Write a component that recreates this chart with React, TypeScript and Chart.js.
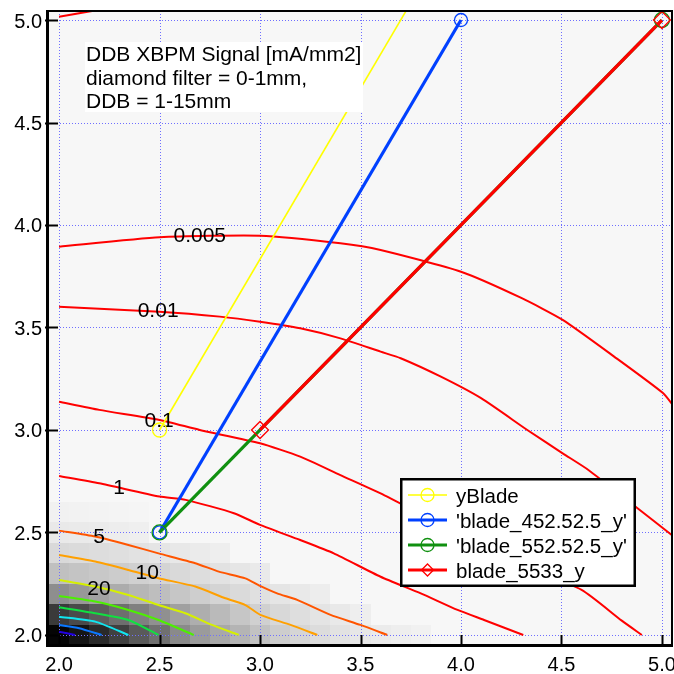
import React, { useEffect, useRef } from 'react';
import { Chart, registerables } from 'chart.js';

Chart.register(...registerables);

// ---- axes ----
const xRange = [1.945, 5.055];
const yRange = [1.951, 5.044];
const xTicks = [2.0, 2.5, 3.0, 3.5, 4.0, 4.5, 5.0];
const yTicks = [2.0, 2.5, 3.0, 3.5, 4.0, 4.5, 5.0];

// ---- heatmap (signal, mA/mm2) on 0.1 grid ----
const heatX = [2.0, 2.1, 2.2, 2.3, 2.4, 2.5, 2.6, 2.7, 2.8, 2.9, 3.0, 3.1, 3.2, 3.3, 3.4, 3.5, 3.6, 3.7, 3.8];
const heatY = [2.0, 2.1, 2.2, 2.3, 2.4, 2.5, 2.6];
const heatRow20 = [80.6, 75.5, 68.7, 61.6, 53.2, 46.1, 37.7, 32.3, 28.1, 24.2, 19.7, 16.1, 13.5, 11.3, 9.4, 7.7, 6.5, 5.5, 4.5];
const heatRow21 = [63.5, 58.4, 52.6, 46.8, 41.0, 35.8, 30.6, 26.1, 22.3, 18.4, 15.2, 12.6, 10.6, 8.7, 7.1, 5.5];
const heatRow22 = [36.5, 33.2, 30.0, 26.8, 23.5, 21.0, 18.4, 15.8, 13.9, 11.9, 10.0, 8.4, 7.1, 5.8];
const heatRow23 = [20.3, 19.0, 17.7, 16.5, 15.2, 13.9, 12.3, 11.0, 9.4, 8.1, 6.8];
const heatRow24 = [12.3, 11.6, 11.0, 10.3, 9.4, 8.4, 7.4, 6.5, 5.5];
const heatRow25 = [7.1, 6.8, 6.5, 5.8, 5.2];
const heatRow26 = [4.5, 4.2, 3.9, 3.5, 3.2];
const heatRows = [heatRow20, heatRow21, heatRow22, heatRow23, heatRow24, heatRow25, heatRow26];

// ---- contour lines [x, y] ----
const contour0001 = [[2.0, 5.016], [2.2, 5.05], [2.4, 5.08]];
const contour0005 = [[2.0, 3.894], [2.5, 3.94], [3.0, 3.948], [3.4, 3.911], [3.6, 3.878], [4.0, 3.772], [4.3, 3.644], [4.506, 3.537], [4.762, 3.358], [5.005, 3.18], [5.06, 3.114]];
const contour001 = [[2.0, 3.601], [2.5, 3.577], [2.8, 3.553], [3.0, 3.528], [3.2, 3.496], [3.4, 3.447], [3.6, 3.382], [3.7, 3.35], [3.9, 3.26], [4.1, 3.155], [4.33, 3.0], [4.506, 2.886], [4.634, 2.805], [4.85, 2.64], [5.06, 2.479]];
const contour01 = [[2.0, 3.138], [2.2, 3.098], [2.5, 3.049], [2.7, 3.0], [3.0, 2.935], [3.2, 2.87], [3.4, 2.78], [3.6, 2.691], [3.8, 2.59], [4.0, 2.49], [4.3, 2.34], [4.6, 2.22], [4.8, 2.07], [4.9, 2.0]];
const contour1 = [[2.0, 2.776], [2.2, 2.74], [2.5, 2.675], [2.63, 2.659], [2.87, 2.594], [3.0, 2.537], [3.2, 2.463], [3.367, 2.398], [3.6, 2.284], [3.8, 2.203], [3.983, 2.122], [4.115, 2.073], [4.31, 2.0]];
const contour5 = [[2.0, 2.509], [2.18, 2.48], [2.345, 2.439], [2.495, 2.398], [2.678, 2.35], [2.795, 2.309], [2.927, 2.276], [3.0, 2.239], [3.085, 2.203], [3.185, 2.171], [3.351, 2.098], [3.5, 2.049], [3.633, 2.0]];
const contour10 = [[2.0, 2.39], [2.18, 2.358], [2.345, 2.317], [2.495, 2.277], [2.678, 2.236], [2.828, 2.179], [2.927, 2.146], [3.002, 2.098], [3.152, 2.049], [3.285, 2.0]];
const contour20 = [[2.0, 2.268], [2.18, 2.236], [2.345, 2.195], [2.495, 2.146], [2.628, 2.106], [2.761, 2.049], [2.894, 2.0]];
const contour30 = [[2.0, 2.19], [2.18, 2.163], [2.345, 2.122], [2.495, 2.073], [2.67, 2.0]];
const contour40 = [[2.0, 2.135], [2.18, 2.106], [2.345, 2.073], [2.495, 2.0]];
const contour50 = [[2.0, 2.089], [2.18, 2.065], [2.345, 2.0]];
const contour60 = [[2.0, 2.049], [2.1, 2.033], [2.212, 2.0]];
const contour70 = [[2.0, 2.016], [2.08, 2.0]];

const contourLines = [contour0001, contour0005, contour001, contour01, contour1, contour5, contour10, contour20, contour30, contour40, contour50, contour60, contour70];
const contourLevels = ['0.001', '0.005', '0.01', '0.1', '1', '5', '10', '20', '30', '40', '50', '60', '70'];
const contourColors = ['#ff0000', '#ff0000', '#ff0000', '#ff0000', '#ff0000', '#ff5500', '#ffa000', '#d6f000', '#4cf000', '#10e040', '#10e6f0', '#0a78ff', '#2200e0'];

// contour labels
const labelText = ['0.005', '0.01', '0.1', '1', '5', '10', '20'];
const labelX = [2.70, 2.493, 2.498, 2.299, 2.199, 2.439, 2.199];
const labelY = [3.946, 3.58, 3.044, 2.717, 2.476, 2.30, 2.222];

// ---- blade series ----
const bladeNames = ['yBlade', "'blade_452.52.5_y'", "'blade_552.52.5_y'", 'blade_5533_y'];
const yBladeX = [2.5, 4.0];
const yBladeY = [3.0, 5.5];
const blade452X = [2.5, 4.0];
const blade452Y = [2.5, 5.0];
const blade552X = [2.5, 5.0];
const blade552Y = [2.5, 5.0];
const blade5533X = [3.0, 5.0];
const blade5533Y = [3.0, 5.0];

const annotationLines = ['DDB XBPM Signal [mA/mm2]', 'diamond filter = 0-1mm,', 'DDB = 1-15mm'];

const FONT = '"Liberation Sans", Arial, sans-serif';

const pts = (xs: number[], ys: number[]) => xs.map((x, i) => ({ x, y: ys[i] }));

const bladeStyles = [
  { color: '#ffff00', width: 1.6, marker: 'circle', r: 7 },
  { color: '#0040ff', width: 3.2, marker: 'circle', r: 6.5 },
  { color: '#109010', width: 3.2, marker: 'circle', r: 7.5 },
  { color: '#ff0000', width: 3.2, marker: 'rectRot', r: 8.5 },
];

function drawMarker(ctx: CanvasRenderingContext2D, kind: string, x: number, y: number, r: number, color: string) {
  ctx.save();
  ctx.strokeStyle = color;
  ctx.lineWidth = 1.3;
  ctx.beginPath();
  if (kind === 'circle') {
    ctx.arc(x, y, r, 0, Math.PI * 2);
  } else {
    ctx.moveTo(x - r, y);
    ctx.lineTo(x, y - r);
    ctx.lineTo(x + r, y);
    ctx.lineTo(x, y + r);
    ctx.closePath();
  }
  ctx.stroke();
  ctx.restore();
}

const decorPlugin = {
  id: 'decor',
  beforeDatasetsDraw(chart: any) {
    const { ctx, chartArea: a, scales } = chart;
    const xs = scales.x, ys = scales.y;
    ctx.save();
    ctx.fillStyle = '#f7f7f7';
    ctx.fillRect(a.left, a.top, a.right - a.left, a.bottom - a.top);
    // heatmap
    heatRows.forEach((row, j) => {
      const yc = heatY[j];
      const y0 = Math.round(ys.getPixelForValue(yc + 0.05));
      const y1 = Math.round(ys.getPixelForValue(yc - 0.05));
      row.forEach((v, i) => {
        const xc = heatX[i];
        const x0 = Math.round(xs.getPixelForValue(xc - 0.05));
        const x1 = Math.round(xs.getPixelForValue(xc + 0.05));
        const g = Math.max(0, Math.min(255, Math.round(255 - 3.1 * v)));
        ctx.fillStyle = `rgb(${g},${g},${g})`;
        const l = Math.max(x0, a.left);
        ctx.fillRect(l, y0, x1 - l, Math.min(y1, a.bottom) - y0);
      });
    });
    // grid
    ctx.strokeStyle = '#6f6fff';
    ctx.lineWidth = 1;
    ctx.setLineDash([1, 2]);
    xTicks.forEach((t) => {
      const p = Math.round(xs.getPixelForValue(t)) + 0.5;
      ctx.beginPath();
      ctx.moveTo(p, a.top);
      ctx.lineTo(p, a.bottom);
      ctx.stroke();
    });
    yTicks.forEach((t) => {
      const p = Math.round(ys.getPixelForValue(t)) + 0.5;
      ctx.beginPath();
      ctx.moveTo(a.left, p);
      ctx.lineTo(a.right, p);
      ctx.stroke();
    });
    ctx.restore();
  },
  afterDatasetsDraw(chart: any) {
    const { ctx, chartArea: a, scales } = chart;
    const xs = scales.x, ys = scales.y;
    ctx.save();
    // contour labels
    ctx.fillStyle = '#000';
    ctx.font = `21px ${FONT}`;
    ctx.textAlign = 'center';
    ctx.textBaseline = 'middle';
    labelText.forEach((t, i) => {
      ctx.fillText(t, xs.getPixelForValue(labelX[i]), ys.getPixelForValue(labelY[i]));
    });
    // markers (hollow) drawn over lines
    const bladeX = [yBladeX, blade452X, blade552X, blade5533X];
    const bladeY = [yBladeY, blade452Y, blade552Y, blade5533Y];
    ctx.save();
    ctx.beginPath();
    ctx.rect(a.left, a.top, a.right - a.left, a.bottom - a.top);
    ctx.clip();
    [0, 1, 2, 3].forEach((k) => {
      const st = bladeStyles[k];
      bladeX[k].forEach((x, i) => {
        drawMarker(ctx, st.marker, xs.getPixelForValue(x), ys.getPixelForValue(bladeY[k][i]), st.r, st.color);
      });
    });
    ctx.restore();
    // frame
    ctx.strokeStyle = '#000';
    ctx.setLineDash([]);
    ctx.lineWidth = 2;
    ctx.beginPath();
    ctx.moveTo(a.left, a.top);
    ctx.lineTo(a.right - 1, a.top);
    ctx.lineTo(a.right - 1, a.bottom);
    ctx.stroke();
    ctx.lineWidth = 3;
    ctx.beginPath();
    ctx.moveTo(a.left - 0.5, a.top - 1);
    ctx.lineTo(a.left - 0.5, a.bottom + 0.5);
    ctx.lineTo(a.right, a.bottom + 0.5);
    ctx.stroke();
    // ticks
    ctx.lineWidth = 2;
    xTicks.forEach((t) => {
      const p = Math.round(xs.getPixelForValue(t)) + 0.5;
      ctx.beginPath();
      ctx.moveTo(p, a.bottom);
      ctx.lineTo(p, a.bottom - 10);
      ctx.stroke();
    });
    yTicks.forEach((t) => {
      const p = Math.round(ys.getPixelForValue(t)) + 0.5;
      ctx.beginPath();
      ctx.moveTo(a.left - 3, p);
      ctx.lineTo(a.left + 10, p);
      ctx.stroke();
    });
    // tick labels
    ctx.fillStyle = '#000';
    ctx.font = `20px ${FONT}`;
    ctx.textBaseline = 'alphabetic';
    ctx.textAlign = 'center';
    xTicks.forEach((t) => {
      ctx.fillText(t.toFixed(1), xs.getPixelForValue(t), a.bottom + 26);
    });
    ctx.textAlign = 'right';
    yTicks.forEach((t) => {
      ctx.fillText(t.toFixed(1), a.left - 6, ys.getPixelForValue(t) + 7.5);
    });
    // annotation box
    ctx.fillStyle = '#ffffff';
    ctx.fillRect(85, 42, 278, 70);
    ctx.fillStyle = '#000';
    ctx.font = `21px ${FONT}`;
    ctx.textAlign = 'left';
    annotationLines.forEach((t, i) => {
      ctx.fillText(t, 86, 61 + i * 23.5);
    });
    // legend
    const lx = 400, ly = 478, lw = 236, lh = 109;
    ctx.fillStyle = '#ffffff';
    ctx.fillRect(lx, ly, lw, lh);
    ctx.strokeStyle = '#000';
    ctx.lineWidth = 2.5;
    ctx.strokeRect(lx + 1.25, ly + 1.25, lw - 2.5, lh - 2.5);
    ctx.font = `20.5px ${FONT}`;
    bladeNames.forEach((name, i) => {
      const st = bladeStyles[i];
      const cy = ly + 17 + i * 25;
      ctx.strokeStyle = st.color;
      ctx.lineWidth = st.width;
      ctx.beginPath();
      ctx.moveTo(lx + 8, cy);
      ctx.lineTo(lx + 47, cy);
      ctx.stroke();
      drawMarker(ctx, st.marker, lx + 27.5, cy, st.marker === 'circle' ? 6.5 : 6, st.color);
      ctx.fillStyle = '#000';
      ctx.fillText(name, lx + 56, cy + 7.5);
    });
    ctx.restore();
  },
};

export default function App() {
  const ref = useRef<HTMLCanvasElement | null>(null);
  useEffect(() => {
    document.body.style.margin = '0';
    const canvas = ref.current;
    if (!canvas) return;
    const bladeData = [
      { label: bladeNames[3], data: pts(blade5533X, blade5533Y), style: bladeStyles[3] },
      { label: bladeNames[2], data: pts(blade552X, blade552Y), style: bladeStyles[2] },
      { label: bladeNames[1], data: pts(blade452X, blade452Y), style: bladeStyles[1] },
      { label: bladeNames[0], data: pts(yBladeX, yBladeY), style: bladeStyles[0] },
    ];
    const datasets: any[] = bladeData.map((b) => ({
      label: b.label,
      data: b.data,
      showLine: true,
      borderColor: b.style.color,
      backgroundColor: 'rgba(0,0,0,0)',
      borderWidth: b.style.width,
      pointRadius: 0,
      clip: 0,
    }));
    contourLines.forEach((c, i) => {
      datasets.push({
        label: 'contour ' + contourLevels[i],
        data: c.map((p) => ({ x: p[0], y: p[1] })),
        showLine: true,
        borderColor: contourColors[i],
        backgroundColor: 'rgba(0,0,0,0)',
        borderWidth: 2,
        pointRadius: 0,
        tension: 0.2,
        clip: 0,
      });
    });
    const chart = new Chart(canvas, {
      type: 'scatter',
      data: { datasets },
      options: {
        animation: false,
        responsive: false,
        maintainAspectRatio: false,
        devicePixelRatio: 1,
        layout: { padding: { left: 48, top: 11, right: 1, bottom: 29 } },
        scales: {
          x: { type: 'linear', min: xRange[0], max: xRange[1], display: false },
          y: { type: 'linear', min: yRange[0], max: yRange[1], display: false },
        },
        plugins: { legend: { display: false }, tooltip: { enabled: false } },
      },
      plugins: [decorPlugin],
    } as any);
    return () => chart.destroy();
  }, []);
  return (
    <div style={{ width: 674, height: 674 }}>
      <canvas ref={ref} width={674} height={674} style={{ display: 'block' }} />
    </div>
  );
}
